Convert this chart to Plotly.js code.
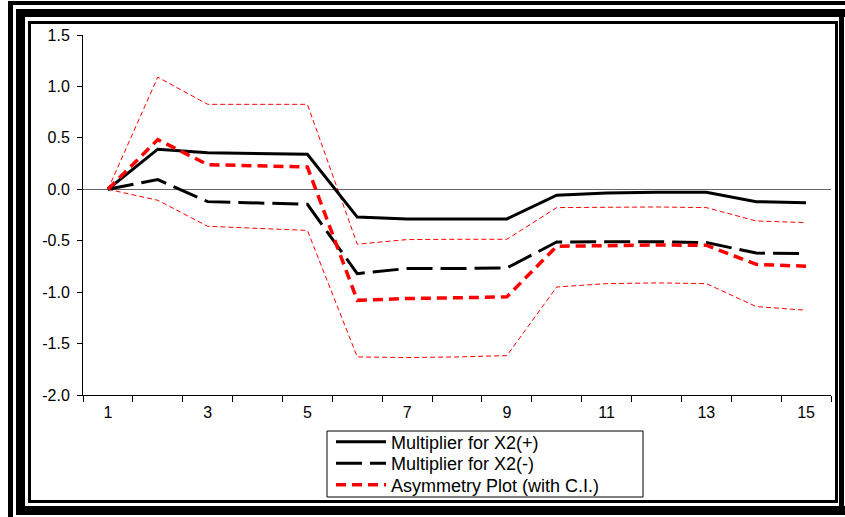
<!DOCTYPE html>
<html>
<head>
<meta charset="utf-8">
<script src="https://cdn.plot.ly/plotly-3.0.1.min.js"></script>
<style>
  html, body { margin: 0; padding: 0; background: #fff; }
  #wrap { position: relative; width: 845px; height: 517px; overflow: hidden; }
  #chart { position: absolute; left: 0; top: 0; width: 845px; height: 517px; }
  .fr { position: absolute; background: #000; pointer-events: none; z-index: 5; }
  #inner { position: absolute; left: 28px; top: 21px; width: 810px; height: 482px;
           border: 3.5px solid #000; box-sizing: border-box; pointer-events: none; z-index: 5; }
</style>
</head>
<body>
<div id="wrap">
  <div id="chart"></div>
  <div class="fr" style="left:8px;top:1px;width:837px;height:4px;"></div>
  <div class="fr" style="left:8px;top:1px;width:5px;height:516px;"></div>
  <div class="fr" style="left:16px;top:9px;width:829px;height:8px;"></div>
  <div class="fr" style="left:16px;top:9px;width:9px;height:506px;"></div>
  <div class="fr" style="left:16px;top:506px;width:829px;height:9px;"></div>
  <div class="fr" style="left:839px;top:9px;width:5px;height:506px;"></div>
  <div id="inner"></div>
</div>
<script>
// Periods
var periods = [1,2,3,4,5,6,7,8,9,10,11,12,13,14,15];
// Multiplier for X2(+)
var multPos = [0, 0.39, 0.355, 0.345, 0.34, -0.27, -0.29, -0.29, -0.288, -0.058, -0.035, -0.03, -0.03, -0.12, -0.13];
// Multiplier for X2(-)
var multNeg = [0, 0.094, -0.12, -0.135, -0.146, -0.82, -0.77, -0.77, -0.765, -0.512, -0.512, -0.51, -0.518, -0.62, -0.625];
// Asymmetry plot
var asym = [0, 0.483, 0.24, 0.225, 0.217, -1.08, -1.062, -1.055, -1.046, -0.554, -0.544, -0.542, -0.544, -0.73, -0.748];
// Confidence interval bounds
var ciUpper = [0, 1.09, 0.826, 0.826, 0.826, -0.534, -0.489, -0.486, -0.486, -0.178, -0.175, -0.172, -0.178, -0.308, -0.324];
var ciLower = [0, -0.107, -0.36, -0.38, -0.40, -1.63, -1.636, -1.63, -1.617, -0.95, -0.917, -0.91, -0.917, -1.14, -1.176];
// Tick labels
var xTickVals = [1,3,5,7,9,11,13,15];
var xTickText = ['1','3','5','7','9','11','13','15'];
var yTickVals = [-2.0,-1.5,-1.0,-0.5,0.0,0.5,1.0,1.5];
var yTickText = ['-2.0','-1.5','-1.0','-0.5','0.0','0.5','1.0','1.5'];

var traces = [
  {x: periods, y: ciUpper, type: 'scatter', mode: 'lines', showlegend: false,
   line: {color: '#ff0000', width: 1, dash: '5px,3px'}, hoverinfo: 'skip'},
  {x: periods, y: ciLower, type: 'scatter', mode: 'lines', showlegend: false,
   line: {color: '#ff0000', width: 1, dash: '5px,3px'}, hoverinfo: 'skip'},
  {x: periods, y: multPos, type: 'scatter', mode: 'lines', name: 'Multiplier for X2(+)',
   legend: 'legend', line: {color: '#000000', width: 3}},
  {x: periods, y: multNeg, type: 'scatter', mode: 'lines', name: 'Multiplier for X2(-)',
   legend: 'legend2', line: {color: '#000000', width: 3, dash: '26px,8px'}},
  {x: periods, y: asym, type: 'scatter', mode: 'lines', name: 'Asymmetry Plot (with C.I.)',
   legend: 'legend3', line: {color: '#ff0000', width: 3.5, dash: '10px,6px'}}
];

var plotTop = 35, plotBottom = 395, plotLeft = 83, plotRight = 831;
function py(px) { return (plotBottom - px) / (plotBottom - plotTop); }
function px(p) { return (p - plotLeft) / (plotRight - plotLeft); }

function legendAt(yPix) {
  return {
    x: px(331), y: py(yPix), xanchor: 'left', yanchor: 'middle',
    bgcolor: 'rgba(0,0,0,0)', borderwidth: 0,
    font: {size: 18, color: '#000'}, itemwidth: 50
  };
}

var layout = {
  width: 845, height: 517,
  margin: {l: plotLeft, r: 845 - plotRight, t: plotTop, b: 517 - plotBottom, pad: 0, autoexpand: false},
  paper_bgcolor: '#ffffff', plot_bgcolor: '#ffffff',
  font: {family: '"Liberation Sans", Arial, sans-serif', size: 16, color: '#000'},
  showlegend: true,
  legend: legendAt(442),
  legend2: legendAt(463.5),
  legend3: legendAt(485),
  shapes: [{
    type: 'rect', xref: 'paper', yref: 'paper',
    x0: px(327), x1: px(643), y0: py(497), y1: py(431),
    line: {color: '#000', width: 1}, fillcolor: 'rgba(0,0,0,0)', layer: 'above'
  }],
  xaxis: {
    range: [0.5, 15.5], showgrid: false, zeroline: false,
    showline: true, linecolor: '#000', linewidth: 1,
    tickmode: 'array', tickvals: xTickVals, ticktext: xTickText, ticks: '',
    ticklabelstandoff: 3,
    minor: {tickmode: 'linear', tick0: 0.5, dtick: 1, ticks: 'outside', ticklen: 6, tickwidth: 1, tickcolor: '#000', showgrid: false},
    tickfont: {size: 16}
  },
  yaxis: {
    range: [-2.0, 1.5], showgrid: false,
    zeroline: true, zerolinecolor: '#666', zerolinewidth: 1,
    showline: true, linecolor: '#000', linewidth: 1,
    tickmode: 'array', tickvals: yTickVals, ticktext: yTickText,
    ticks: 'outside', ticklen: 5, tickwidth: 1, tickcolor: '#000',
    ticklabelstandoff: 4,
    tickfont: {size: 16}
  }
};

Plotly.newPlot('chart', traces, layout, {displayModeBar: false, staticPlot: true});
</script>
</body>
</html>
